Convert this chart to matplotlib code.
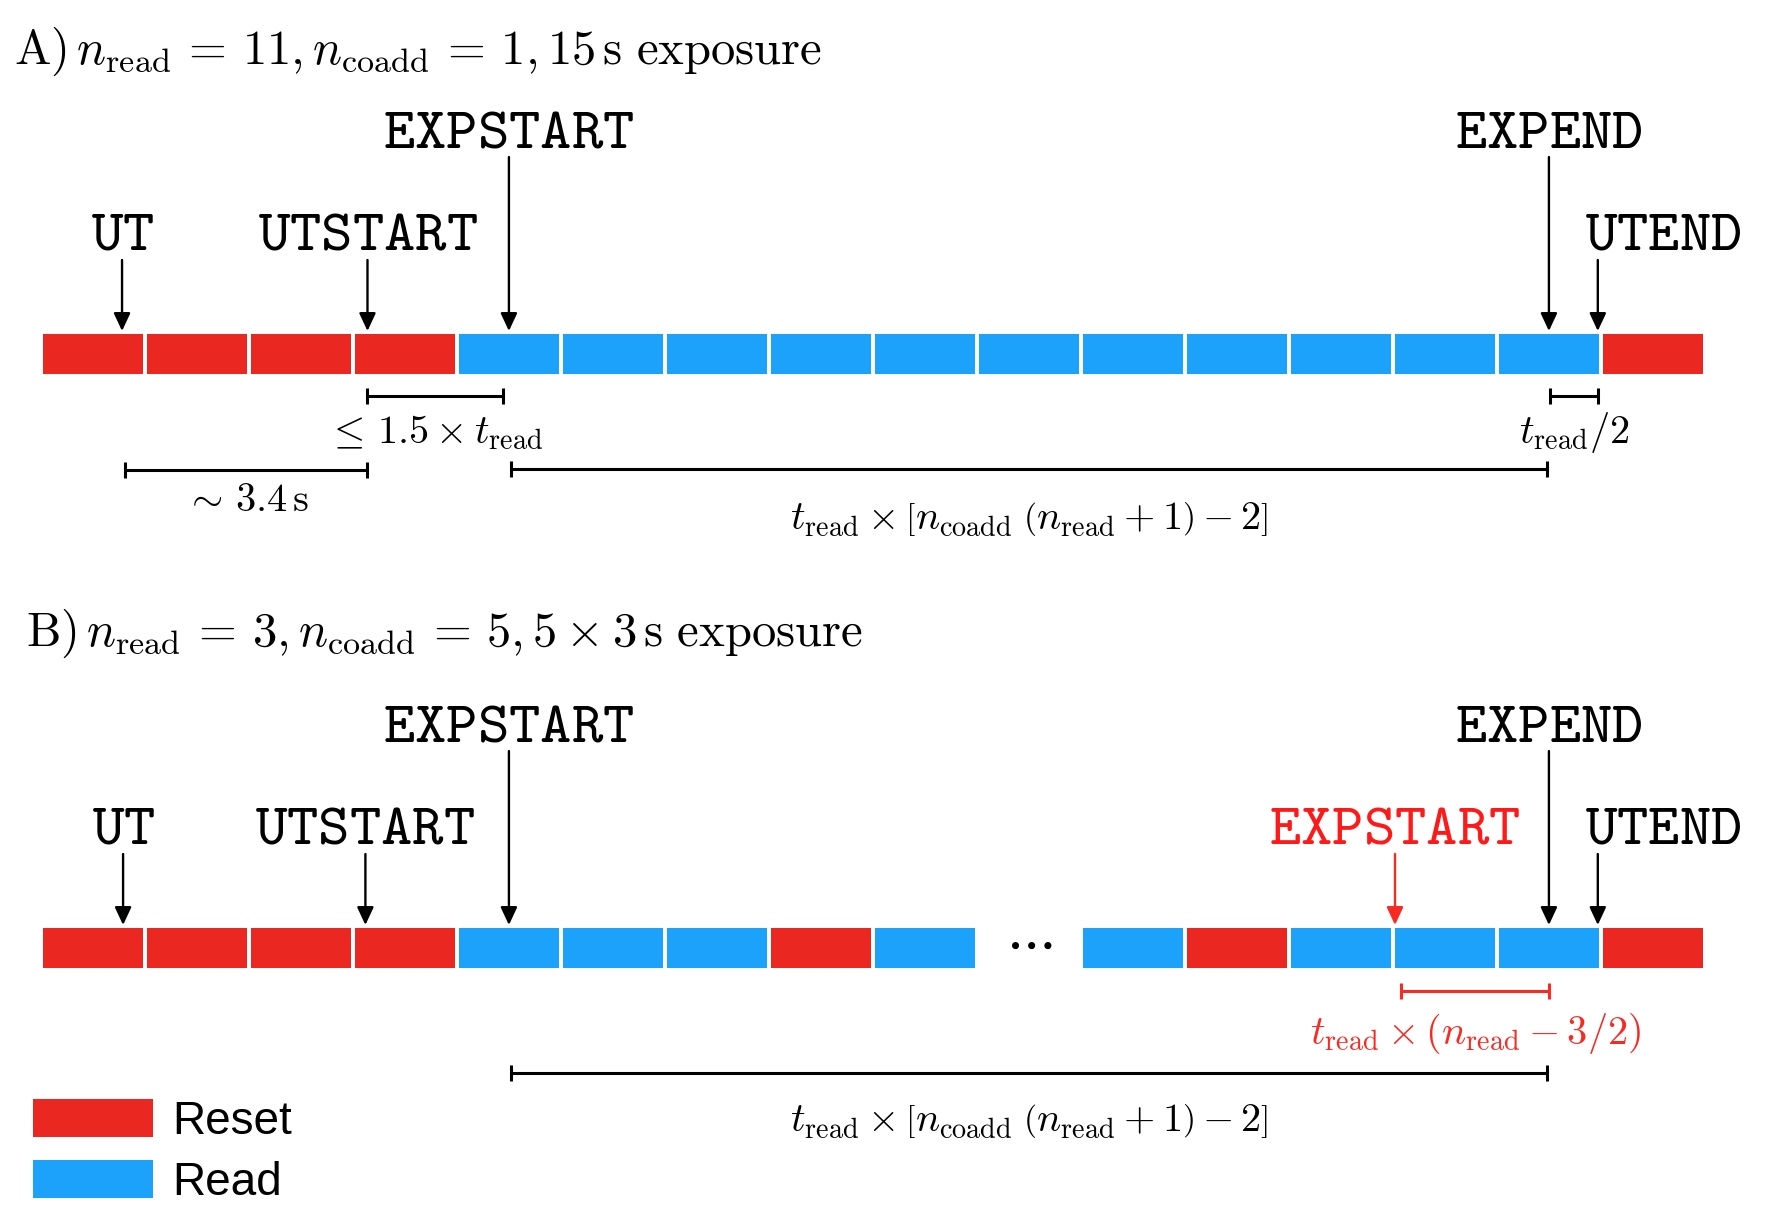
import matplotlib.pyplot as plt
from matplotlib.patches import Patch

plt.rcParams['mathtext.fontset'] = 'cm'

RESET = '#EB2721'
READ = '#1DA2FB'
RED_TXT = '#FF1A1A'
RED_ARROW = '#F82A22'

# readout sequence, one entry per time slot (None = skipped, drawn as dots)
seq_a = ['reset'] * 4 + ['read'] * 11 + ['reset']
seq_b = (['reset'] * 4 + ['read'] * 3 + ['reset', 'read', None, 'read', 'reset']
         + ['read'] * 3 + ['reset'])

title_a = (r'$\mathrm{A)}\,n_{\mathrm{read}}\,=\,11,n_{\mathrm{coadd}}\,=\,1,'
           r'15\,\mathrm{s\ exposure}$')
title_b = (r'$\mathrm{B)}\,n_{\mathrm{read}}\,=\,3,n_{\mathrm{coadd}}\,=\,5,'
           r'5\times3\,\mathrm{s\ exposure}$')

# keyword markers: name, time (slot units)
marks_a = [('UT', 0.76), ('UTSTART', 3.12), ('EXPSTART', 4.48), ('EXPEND', 14.48), ('UTEND', 14.95)]
marks_b = [('UT', 0.77), ('UTSTART', 3.10), ('EXPSTART', 4.48), ('EXPSTART2', 13.0),
           ('EXPEND', 14.48), ('UTEND', 14.95)]

LONG = (r'$t_{\mathrm{read}}\times\left[n_{\mathrm{coadd}}\;\left(n_{\mathrm{read}}+1\right)'
        r'-2\right]$')
# brackets: start, end, label
brackets_a = [(3.12, 4.42, r'$\leq\,1.5\times t_{\mathrm{read}}$'),
              (14.49, 14.95, r'$t_{\mathrm{read}}/2$'),
              (0.79, 3.12, r'$\sim\,3.4\,\mathrm{s}$'),
              (4.50, 14.46, LONG)]
brackets_b = [(13.06, 14.48, r'$t_{\mathrm{read}}\times\left(n_{\mathrm{read}}-3/2\right)$'),
              (4.50, 14.46, LONG)]

fig = plt.figure(figsize=(17.76, 12.30), dpi=100)
ax = fig.add_axes([0, 0, 1, 1])
# x in slot units, y in pixels from the top
ax.set_xlim(-43 / 104, (1776 - 43) / 104)
ax.set_ylim(1230, 0)
ax.axis('off')

SEG_W = 100 / 104
BAR_H = 40
TT = 43


def draw_row(seq, top):
    for i, kind in enumerate(seq):
        if kind is None:
            ax.text(i + SEG_W / 2, top + BAR_H / 2 - 4, r'$\cdots$', fontsize=40,
                    ha='center', va='center')
            continue
        ax.bar(i, BAR_H, bottom=top, width=SEG_W, align='edge',
               color=RESET if kind == 'reset' else READ, linewidth=0)


def arrow(x, y0, y1, color):
    ax.annotate('', xy=(x, y1), xytext=(x, y0),
                arrowprops=dict(arrowstyle='-|>,head_length=0.9,head_width=0.42',
                                mutation_scale=12, lw=1.7, color=color,
                                shrinkA=0, shrinkB=0))


def draw_marks(marks, top):
    for name, x in marks:
        tall = name.startswith('EXP') and name != 'EXPSTART2'
        color = RED_ARROW if name == 'EXPSTART2' else 'k'
        tcol = RED_TXT if name == 'EXPSTART2' else 'k'
        label = 'EXPSTART' if name == 'EXPSTART2' else name
        base = top - (186 if tall else 84)
        if name == 'UTEND':
            ax.text(x - 0.12, base, r'$\mathtt{%s}$' % label, fontsize=TT,
                    ha='left', va='baseline', color=tcol)
        else:
            ax.text(x, base, r'$\mathtt{%s}$' % label, fontsize=TT,
                    ha='center', va='baseline', color=tcol)
        arrow(x, top - (177 if tall else 74), top - 3, color)


def bracket(x0, x1, y, label, base, color='k'):
    ax.plot([x0, x1], [y, y], color=color, lw=2.2, solid_capstyle='butt')
    ax.vlines([x0, x1], y - 8, y + 8, color=color, lw=2.2)
    ax.text((x0 + x1) / 2, base, label, fontsize=29, ha='center', va='baseline', color=color)


top_a, top_b = 334, 928

ax.text(-0.28, 64, title_a, fontsize=35, ha='left', va='baseline')
ax.text(-0.16, 646, title_b, fontsize=35, ha='left', va='baseline')

draw_row(seq_a, top_a)
draw_row(seq_b, top_b)
draw_marks(marks_a, top_a)
draw_marks(marks_b, top_b)

# (line offset, label baseline offset) below the bar top
levels_a = [(62, 109), (62, 109), (136, 177), (135, 195)]
levels_b = [(63, 116), (145, 203)]
for (x0, x1, lab), (dy, db) in zip(brackets_a, levels_a):
    bracket(x0, x1, top_a + dy, lab, top_a + db)
for k, ((x0, x1, lab), (dy, db)) in enumerate(zip(brackets_b, levels_b)):
    bracket(x0, x1, top_b + dy, lab, top_b + db, color=RED_ARROW if k == 0 else 'k')

handles = [Patch(facecolor=RESET, edgecolor='none', label='Reset'),
           Patch(facecolor=READ, edgecolor='none', label='Read')]
fig.legend(handles=handles, loc='upper left', bbox_to_anchor=(33 / 1776, 1 - 1099 / 1230),
           frameon=False, borderpad=0, borderaxespad=0, handlelength=2.62, handleheight=0.9,
           handletextpad=0.41, labelspacing=0.35,
           prop={'family': 'Liberation Sans', 'size': 33})

fig.savefig('out.png', dpi=100)
